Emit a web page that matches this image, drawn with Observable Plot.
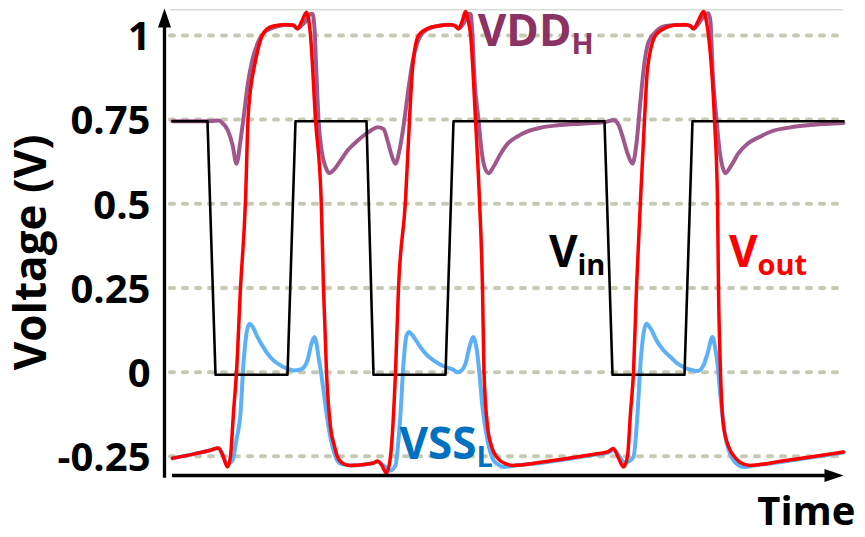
<!DOCTYPE html>
<html><head><meta charset="utf-8">
<script src="https://cdn.jsdelivr.net/npm/d3@7"></script>
<script src="https://cdn.jsdelivr.net/npm/@observablehq/plot@0.6"></script>
<style>
html,body{margin:0;padding:0;background:#fff;}
#chart{width:865px;height:537px;}
</style></head><body><div id="chart"></div>
<script>
// ---- axis ticks ----
const yTicks = [-0.25, 0, 0.25, 0.5, 0.75, 1];
const yTickLabels = ["-0.25", "0", "0.25", "0.5", "0.75", "1"];

// ---- V_in (time a.u., volts) ----
const vinTime = [0.8, 4.3, 5.1, 12.3, 13.1, 20.2, 20.9, 28.1, 28.9, 44.0, 44.8, 52.0, 52.8, 67.9];
const vinVolt = [0.745, 0.745, -0.008, -0.008, 0.745, 0.745, -0.008, -0.008, 0.745, 0.745, -0.008, -0.008, 0.745, 0.745];

// ---- V_out ----
const voutTime = [0.8, 3.1, 4.6, 5.4, 5.8, 6.3, 6.6, 6.9, 7.2, 7.6, 8.1, 8.35, 8.6, 9.0, 9.77, 10.2, 10.9, 12.1, 12.9, 13.3, 13.7, 14.2, 14.4, 14.6, 15.1, 15.67, 15.9, 16.2, 16.6, 17.0, 17.3, 17.9, 18.6, 19.8, 20.9, 21.3, 21.7, 22.2, 22.6, 23.1, 23.4, 24.1, 24.5, 24.8, 25.4, 26.4, 27.3, 28.6, 29.1, 29.4, 29.8, 30.1, 30.4, 30.6, 31.1, 31.5, 31.8, 31.95, 32.3, 32.7, 33.3, 34.1, 34.9, 37.6, 40.6, 43.1, 44.3, 44.9, 45.4, 45.9, 46.3, 46.6, 46.9, 47.2, 47.6, 48.0, 48.3, 49.1, 50.2, 50.9, 52.1, 52.6, 52.9, 53.4, 53.9, 54.2, 54.4, 55.0, 55.3, 55.4, 55.6, 55.9, 56.4, 57.1, 57.8, 58.6, 61.6, 64.6, 67.9];
const voutVolt = [-0.256, -0.242, -0.232, -0.225, -0.245, -0.282, -0.25, -0.12, 0.0, 0.25, 0.51, 0.75, 0.84, 0.91, 1.0, 1.018, 1.028, 1.032, 1.03, 1.02, 1.04, 1.069, 1.05, 1.0, 0.75, 0.51, 0.25, 0.0, -0.163, -0.22, -0.252, -0.272, -0.277, -0.275, -0.27, -0.264, -0.275, -0.30, -0.25, 0.0, 0.25, 0.51, 0.75, 0.9, 1.0, 1.022, 1.028, 1.032, 1.028, 1.02, 1.045, 1.071, 1.04, 1.005, 0.75, 0.51, 0.25, 0.0, -0.16, -0.22, -0.255, -0.272, -0.277, -0.268, -0.255, -0.243, -0.237, -0.227, -0.255, -0.282, -0.25, -0.12, 0.0, 0.25, 0.51, 0.75, 0.9, 1.0, 1.024, 1.03, 1.032, 1.028, 1.02, 1.045, 1.071, 1.04, 1.0, 0.75, 0.51, 0.25, 0.0, -0.16, -0.22, -0.255, -0.272, -0.277, -0.265, -0.252, -0.237];

// ---- VDD_H ----
const vddTime = [0.8, 3.6, 4.8, 5.4, 5.8, 6.3, 6.8, 7.2, 7.6, 8.0, 8.33, 8.77, 9.43, 10.0, 10.6, 11.4, 12.1, 12.9, 13.3, 13.7, 14.2, 14.6, 14.8, 15.0, 15.2, 15.4, 15.7, 16.1, 16.5, 16.9, 17.6, 18.3, 19.1, 19.8, 20.6, 21.3, 21.9, 22.3, 22.7, 23.1, 23.5, 23.9, 24.3, 24.8, 25.3, 26.1, 27.3, 28.6, 29.1, 29.4, 29.9, 30.4, 30.6, 30.8, 31.0, 31.4, 31.7, 32.0, 32.4, 32.9, 33.6, 34.3, 35.3, 36.3, 37.6, 39.3, 41.6, 43.9, 44.9, 45.4, 45.8, 46.3, 46.8, 47.2, 47.6, 48.0, 48.4, 49.1, 50.1, 52.1, 52.6, 52.9, 53.4, 54.0, 54.4, 54.6, 54.8, 55.2, 55.5, 55.8, 56.1, 56.6, 57.4, 58.3, 59.6, 60.9, 62.6, 64.3, 66.1, 67.9];
const vddVolt = [0.745, 0.745, 0.746, 0.747, 0.74, 0.72, 0.675, 0.619, 0.688, 0.777, 0.856, 0.925, 0.985, 1.01, 1.02, 1.028, 1.032, 1.03, 1.02, 1.03, 1.045, 1.064, 1.064, 1.02, 0.88, 0.75, 0.66, 0.61, 0.591, 0.60, 0.628, 0.658, 0.682, 0.70, 0.717, 0.727, 0.722, 0.688, 0.645, 0.619, 0.66, 0.73, 0.82, 0.92, 0.98, 1.015, 1.028, 1.032, 1.028, 1.02, 1.035, 1.064, 1.064, 1.0, 0.87, 0.75, 0.66, 0.61, 0.591, 0.61, 0.648, 0.678, 0.70, 0.715, 0.726, 0.733, 0.738, 0.742, 0.748, 0.735, 0.70, 0.65, 0.619, 0.68, 0.807, 0.92, 0.98, 1.01, 1.028, 1.032, 1.028, 1.02, 1.035, 1.06, 1.066, 1.04, 0.9, 0.75, 0.66, 0.61, 0.591, 0.61, 0.65, 0.678, 0.70, 0.717, 0.727, 0.733, 0.737, 0.74];

// ---- VSS_L ----
const vssTime = [0.8, 3.1, 4.6, 5.4, 5.8, 6.3, 6.8, 7.2, 7.6, 7.9, 8.2, 8.5, 8.8, 9.3, 9.8, 10.3, 10.9, 11.6, 12.3, 12.9, 13.5, 13.9, 14.3, 14.7, 15.0, 15.2, 15.4, 15.65, 15.9, 16.3, 16.8, 17.2, 17.6, 18.6, 19.8, 20.9, 21.3, 21.9, 22.6, 23.1, 23.4, 23.6, 23.9, 24.17, 24.43, 24.9, 25.6, 26.2, 26.9, 27.6, 28.3, 28.8, 29.3, 29.7, 30.1, 30.5, 30.9, 31.15, 31.4, 31.6, 31.8, 32.3, 32.9, 33.4, 33.9, 34.9, 37.6, 40.6, 43.1, 44.3, 44.9, 45.6, 46.0, 46.3, 46.9, 47.3, 47.6, 47.9, 48.2, 48.6, 49.3, 49.9, 50.6, 51.2, 51.9, 52.6, 53.3, 53.9, 54.3, 54.8, 55.05, 55.3, 55.6, 56.1, 56.9, 57.4, 57.9, 58.6, 61.6, 64.6, 67.9];
const vssVolt = [-0.256, -0.242, -0.232, -0.226, -0.245, -0.272, -0.262, -0.2, -0.123, 0.026, 0.115, 0.144, 0.135, 0.104, 0.078, 0.055, 0.035, 0.02, 0.01, 0.005, 0.007, 0.013, 0.035, 0.085, 0.104, 0.085, 0.045, 0.0, -0.054, -0.143, -0.222, -0.258, -0.272, -0.277, -0.275, -0.27, -0.266, -0.277, -0.292, -0.277, -0.2, -0.124, 0.026, 0.104, 0.119, 0.105, 0.074, 0.052, 0.035, 0.022, 0.013, 0.008, 0.0, 0.005, 0.025, 0.075, 0.104, 0.08, 0.025, -0.04, -0.104, -0.203, -0.262, -0.275, -0.282, -0.278, -0.27, -0.257, -0.245, -0.24, -0.232, -0.255, -0.27, -0.267, -0.252, -0.124, 0.025, 0.114, 0.144, 0.13, 0.089, 0.065, 0.045, 0.028, 0.015, 0.007, 0.003, 0.02, 0.055, 0.104, 0.075, 0.025, -0.074, -0.193, -0.262, -0.276, -0.282, -0.279, -0.267, -0.254, -0.239];

// ---- in-plot labels (main text, subscript, anchor in data units) ----
const labelMain = ["V", "V", "VDD", "VSS"];
const labelSub = ["in", "out", "H", "L"];
const labelTime = [41.3, 59.3, 40.7, 31.2];
const labelVolt = [0.311, 0.311, 0.970, -0.259];
const labelColor = ["#000000", "#ff0000", "#8c3264", "#0070c0"];

const rows = (T, V) => T.map((t, i) => ({t, v: V[i]}));
const labels = labelMain.map((m, i) => ({main: m, sub: labelSub[i], t: labelTime[i], v: labelVolt[i], color: labelColor[i]}));

const yDomain = [-0.31, 1.08];
const xDomain = [0, 67.9];
const xAxisLevel = -0.307;

const arrowHead = {
  draw(ctx) { ctx.moveTo(0, 0); ctx.lineTo(-6.5, 19); ctx.lineTo(6.5, 19); ctx.closePath(); }
};

const font = "'Open Sans', 'DejaVu Sans', sans-serif";

const chart = Plot.plot({
  width: 865,
  height: 537,
  marginLeft: 164,
  marginRight: 22,
  marginTop: 8,
  marginBottom: 61,
  style: {fontFamily: font, background: "#fff", overflow: "visible"},
  x: {domain: xDomain, axis: null},
  y: {domain: yDomain, axis: null},
  color: {type: "identity"},
  marks: [
    Plot.ruleY(yTicks, {x1: 0.6, x2: 68.1, stroke: "#c6c9b4", strokeWidth: 4, strokeDasharray: "4,9", strokeLinecap: "round"}),
    Plot.ruleY([yDomain[1] - 0.004], {x1: 0.6, x2: 67.9, stroke: "#c3cfc3", strokeWidth: 1}),
    Plot.line(rows(vddTime, vddVolt), {x: "t", y: "v", stroke: "#a0588c", strokeWidth: 4, curve: "monotone-x"}),
    Plot.line(rows(vssTime, vssVolt), {x: "t", y: "v", stroke: "#5cb0f5", strokeWidth: 4, curve: "monotone-x"}),
    Plot.line(rows(vinTime, vinVolt), {x: "t", y: "v", stroke: "#000000", strokeWidth: 2.6}),
    Plot.line(rows(voutTime, voutVolt), {x: "t", y: "v", stroke: "#ff0000", strokeWidth: 3.5, curve: "monotone-x"}),
    Plot.ruleX([0], {y1: -0.315, y2: 1.03, stroke: "black", strokeWidth: 3.3}),
    Plot.ruleY([xAxisLevel], {x1: 0.8, x2: 66.5, stroke: "black", strokeWidth: 3.3}),
    Plot.dot([{t: 0, v: yDomain[1]}], {x: "t", y: "v", symbol: arrowHead, r: 5, fill: "black", stroke: "none"}),
    Plot.dot([{t: xDomain[1], v: xAxisLevel}], {x: "t", y: "v", symbol: arrowHead, r: 5, fill: "black", stroke: "none", rotate: 90}),
    Plot.axisY(yTicks, {tickSize: 0, tickPadding: 14, tickFormat: (d) => yTickLabels[yTicks.indexOf(d)], fontSize: 40, fontWeight: "bold", fill: "black", label: null, dy: 2}),
    Plot.text(["Voltage (V)"], {frameAnchor: "left", rotate: -90, dx: -119, dy: 10, fontSize: 44, fontWeight: "bold", lineAnchor: "bottom", textAnchor: "middle", fill: "black"}),
    Plot.text(["Time"], {frameAnchor: "bottom-right", textAnchor: "end", lineAnchor: "bottom", dx: 12, dy: 48, fontSize: 40, fontWeight: "bold", fill: "black"}),
    Plot.text(labels, {x: "t", y: "v", text: "main", textAnchor: "end", lineAnchor: "bottom", fontSize: 44, fontWeight: "bold", fill: "color"}),
    Plot.text(labels, {x: "t", y: "v", text: "sub", textAnchor: "start", lineAnchor: "bottom", dy: 8, fontSize: 29, fontWeight: "bold", fill: "color"})
  ]
});
document.getElementById("chart").appendChild(chart);
</script>
</body></html>
